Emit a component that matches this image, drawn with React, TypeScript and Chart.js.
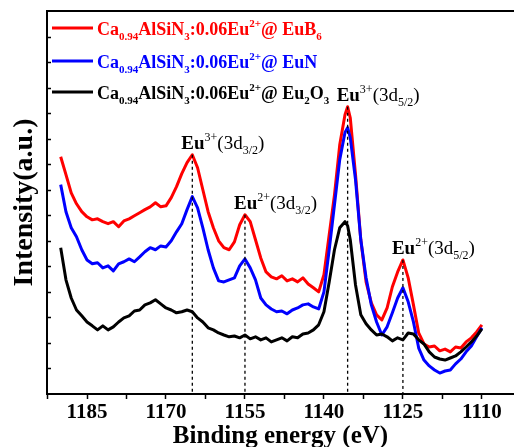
import React, { useEffect, useRef } from 'react';
import { Chart, registerables } from 'chart.js';

Chart.register(...registerables);

// Binding energy (eV)
const energy = [
  1190, 1189, 1188, 1187, 1186, 1185, 1184, 1183, 1182, 1181,
  1180, 1179, 1178, 1177, 1176, 1175, 1174, 1173, 1172, 1171,
  1170, 1169, 1168, 1167, 1166, 1165, 1164, 1163, 1162, 1161,
  1160, 1159, 1158, 1157, 1156, 1155, 1154, 1153, 1152, 1151,
  1150, 1149, 1148, 1147, 1146, 1145, 1144, 1143, 1142, 1141,
  1140, 1139, 1138, 1137, 1136,
  1135.5,
  1135, 1134, 1133, 1132, 1131, 1130, 1129, 1128, 1127, 1126,
  1125, 1124, 1123, 1122, 1121, 1120, 1119, 1118, 1117, 1116,
  1115, 1114, 1113, 1112, 1111, 1110,
];

// Intensity (a.u.)
const euB6 = [
  9.29, 8.59, 7.88, 7.45, 7.14, 6.94, 6.82, 6.86, 6.75, 6.67,
  6.75, 6.55, 6.78, 6.86, 6.98, 7.10, 7.22, 7.33, 7.49, 7.33,
  7.37, 7.69, 8.12, 8.63, 9.06, 9.37, 8.86, 8.00, 7.14, 6.51,
  6.00, 5.73, 5.65, 5.96, 6.63, 7.02, 6.75, 6.04, 5.33, 4.78,
  4.59, 4.51, 4.63, 4.43, 4.51, 4.39, 4.55, 4.31, 4.16, 4.00,
  4.67, 6.24, 7.80, 9.76, 10.94,
  11.25,
  10.82, 8.59, 6.04, 4.39, 3.57, 3.10, 2.90, 3.37, 4.20, 4.78,
  5.25, 4.55, 3.49, 2.39, 1.96, 1.84, 1.88, 1.69, 1.76, 1.65,
  1.84, 1.80, 2.04, 2.20, 2.43, 2.71,
];

const euN = [
  8.20, 7.14, 6.51, 6.16, 5.65, 5.25, 5.10, 5.14, 4.94, 5.02,
  4.82, 5.10, 5.18, 5.29, 5.18, 5.37, 5.57, 5.73, 5.65, 5.80,
  5.76, 6.00, 6.35, 6.67, 7.22, 7.73, 7.29, 6.51, 5.65, 4.94,
  4.43, 4.39, 4.47, 4.55, 5.02, 5.29, 4.94, 4.47, 3.76, 3.49,
  3.33, 3.22, 3.25, 3.14, 3.29, 3.37, 3.49, 3.53, 3.41, 3.33,
  4.00, 5.65, 7.41, 9.18, 10.24,
  10.43,
  10.04, 8.39, 6.04, 4.55, 3.49, 2.82, 2.31, 2.63, 3.18, 3.76,
  4.16, 3.61, 2.82, 1.80, 1.33, 1.10, 0.94, 0.82, 0.90, 0.94,
  1.18, 1.37, 1.65, 1.88, 2.24, 2.59,
];

const eu2O3 = [
  5.73, 4.47, 3.76, 3.29, 3.06, 2.82, 2.67, 2.51, 2.67, 2.51,
  2.63, 2.82, 2.98, 3.06, 3.25, 3.29, 3.49, 3.57, 3.69, 3.53,
  3.37, 3.29, 3.18, 3.22, 3.29, 3.22, 2.98, 2.82, 2.59, 2.51,
  2.39, 2.31, 2.24, 2.27, 2.20, 2.31, 2.16, 2.24, 2.12, 2.20,
  2.04, 2.12, 2.20, 2.08, 2.24, 2.20, 2.35, 2.39, 2.51, 2.71,
  3.22, 4.39, 5.65, 6.51, 6.75,
  6.59,
  6.04, 4.27, 3.10, 2.75, 2.51, 2.31, 2.35, 2.24, 2.08, 2.20,
  2.12, 2.39, 2.35, 2.12, 1.96, 1.65, 1.45, 1.37, 1.33, 1.41,
  1.49, 1.65, 1.84, 2.04, 2.27, 2.55,
];

const xMajorTicks = [1185, 1170, 1155, 1140, 1125, 1110];
const xMinorTicks = [1192.5, 1177.5, 1162.5, 1147.5, 1132.5, 1117.5];
const peakEnergies = [1165, 1155, 1135.5, 1125];

type Seg = [string, string];
const peakLabels: Seg[][] = [
  [['Eu', 'b'], ['3+', 'rsup'], ['(3d', 'r'], ['3/2', 'rsub'], [')', 'r']],
  [['Eu', 'b'], ['2+', 'rsup'], ['(3d', 'r'], ['3/2', 'rsub'], [')', 'r']],
  [['Eu', 'b'], ['3+', 'rsup'], ['(3d', 'r'], ['5/2', 'rsub'], [')', 'r']],
  [['Eu', 'b'], ['2+', 'rsup'], ['(3d', 'r'], ['5/2', 'rsub'], [')', 'r']],
];

const seriesColors = ['#ff0000', '#0000ff', '#000000'];
const seriesLabels: Seg[][] = [
  [['Ca', 'b'], ['0.94', 'bsub'], ['AlSiN', 'b'], ['3', 'bsub'], [':0.06Eu', 'b'], ['2+', 'bsup'], ['@ EuB', 'b'], ['6', 'bsub']],
  [['Ca', 'b'], ['0.94', 'bsub'], ['AlSiN', 'b'], ['3', 'bsub'], [':0.06Eu', 'b'], ['2+', 'bsup'], ['@ EuN', 'b']],
  [['Ca', 'b'], ['0.94', 'bsub'], ['AlSiN', 'b'], ['3', 'bsub'], [':0.06Eu', 'b'], ['2+', 'bsup'], ['@ Eu', 'b'], ['2', 'bsub'], ['O', 'b'], ['3', 'bsub']],
];

const FAMILY = "'Liberation Serif', 'Times New Roman', serif";

function drawRich(ctx: CanvasRenderingContext2D, segs: Seg[], x: number, y: number, size: number, small: number, color: string) {
  let cx = x;
  ctx.fillStyle = color;
  ctx.textBaseline = 'alphabetic';
  ctx.textAlign = 'left';
  for (const [text, kind] of segs) {
    const bold = kind.startsWith('b');
    const isSub = kind.endsWith('sub');
    const isSup = kind.endsWith('sup');
    const fs = isSub || isSup ? small : size;
    ctx.font = `${bold ? 'bold ' : ''}${fs}px ${FAMILY}`;
    const dy = isSub ? size * 0.28 : isSup ? -size * 0.42 : 0;
    ctx.fillText(text, cx, y + dy);
    cx += ctx.measureText(text).width;
  }
}

const series = [euB6, euN, eu2O3];
const peakValue = (e: number) => {
  const i = energy.indexOf(e);
  return Math.max(...series.map((s) => s[i]));
};

const decorPlugin = {
  id: 'decor',
  afterDraw(chart: any) {
    const ctx: CanvasRenderingContext2D = chart.ctx;
    const { left, right, top } = chart.chartArea;
    const xs = chart.scales.x;
    const ys = chart.scales.y;
    ctx.save();
    // top frame
    ctx.strokeStyle = '#000';
    ctx.lineWidth = 2;
    ctx.beginPath();
    ctx.moveTo(left - 1, top);
    ctx.lineTo(right, top);
    ctx.stroke();
    // inward y ticks
    ctx.lineWidth = 1.5;
    ys.ticks.forEach((t: any) => {
      if (t.value <= ys.min || t.value >= ys.max) return;
      const p = Math.round(ys.getPixelForValue(t.value)) + 0.5;
      ctx.beginPath();
      ctx.moveTo(left, p);
      ctx.lineTo(left + 4, p);
      ctx.stroke();
    });
    // legend
    const rows = [28, 61, 92];
    seriesLabels.forEach((segs, i) => {
      ctx.strokeStyle = seriesColors[i];
      ctx.lineWidth = 3;
      ctx.beginPath();
      ctx.moveTo(left + 5, rows[i]);
      ctx.lineTo(left + 46, rows[i]);
      ctx.stroke();
      drawRich(ctx, segs, left + 50, rows[i] + 7, 18, 11, seriesColors[i]);
    });
    // peak labels
    peakEnergies.forEach((e, i) => {
      const px = xs.getPixelForValue(e) - 11;
      const py = ys.getPixelForValue(peakValue(e)) - 6;
      drawRich(ctx, peakLabels[i], px, py, 19, 12, '#000');
    });
    ctx.restore();
  },
};

const tickFont = { family: FAMILY, size: 21, weight: 'bold' as const };

export default function App() {
  const canvasRef = useRef<HTMLCanvasElement>(null);

  useEffect(() => {
    if (!canvasRef.current) return;
    const mk = (arr: number[]) => energy.map((e, i) => ({ x: e, y: arr[i] }));
    const datasets: any[] = [
      { label: 'EuB6', data: mk(euB6), borderColor: seriesColors[0], borderWidth: 3, order: 3 },
      { label: 'EuN', data: mk(euN), borderColor: seriesColors[1], borderWidth: 3, order: 2 },
      { label: 'Eu2O3', data: mk(eu2O3), borderColor: seriesColors[2], borderWidth: 3, order: 1 },
      ...peakEnergies.map((e) => ({
        label: 'peak ' + e,
        data: [{ x: e, y: peakValue(e) }, { x: e, y: 0 }],
        borderColor: '#000',
        borderWidth: 1.3,
        borderDash: [3, 3],
        order: 0,
      })),
    ];
    const chart = new Chart(canvasRef.current, {
      type: 'line',
      data: { datasets },
      options: {
        responsive: false,
        animation: false,
        layout: { padding: { top: 11, right: 0, left: 0, bottom: 0 } },
        elements: { point: { radius: 0 }, line: { tension: 0, borderJoinStyle: 'round' } },
        plugins: { legend: { display: false }, tooltip: { enabled: false } },
        scales: {
          x: {
            type: 'linear',
            reverse: true,
            min: 1103.9,
            max: 1192.6,
            afterBuildTicks: (s: any) => {
              s.ticks = [...xMajorTicks, ...xMinorTicks].sort((a, b) => a - b).map((v) => ({ value: v }));
            },
            afterFit: (s: any) => {
              s.height = 53;
            },
            ticks: {
              autoSkip: false,
              maxRotation: 0,
              padding: 1,
              color: '#000',
              font: tickFont,
              callback: (v: any) => (xMajorTicks.includes(Number(v)) ? String(v) : ''),
            },
            grid: { drawOnChartArea: false, drawTicks: true, tickLength: 5, tickWidth: 1.5, tickColor: '#000' },
            border: { display: true, color: '#000', width: 2 },
            title: {
              display: true,
              text: 'Binding energy (eV)',
              color: '#000',
              font: { family: FAMILY, size: 25, weight: 'bold', lineHeight: 0.8 },
              padding: 0,
            },
          },
          y: {
            min: 0,
            max: 15,
            ticks: { display: false, stepSize: 1 },
            grid: { drawOnChartArea: false, drawTicks: false },
            border: { display: true, color: '#000', width: 2 },
            afterFit: (s: any) => {
              s.width = 47;
            },
            title: {
              display: true,
              text: 'Intensity(a.u.)',
              color: '#000',
              font: { family: FAMILY, size: 28, weight: 'bold', lineHeight: 1.2 },
              padding: { top: 8, bottom: 0 },
            },
          },
        },
      },
      plugins: [decorPlugin],
    });
    return () => chart.destroy();
  }, []);

  return (
    <div style={{ position: 'absolute', left: 0, top: 0, width: 514, height: 447, background: '#fff' }}>
      <canvas ref={canvasRef} width={514} height={447} style={{ display: 'block' }} />
    </div>
  );
}
